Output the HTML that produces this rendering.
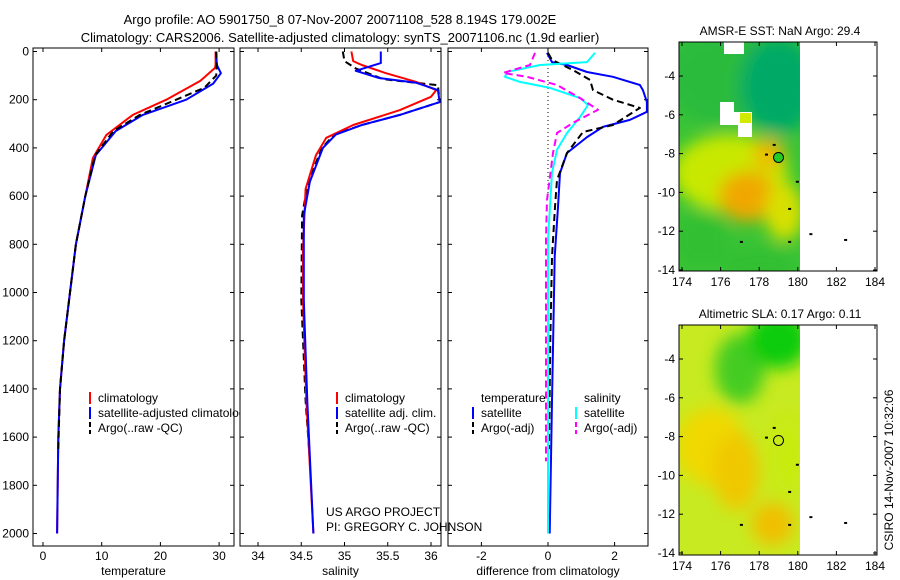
<!DOCTYPE html>
<html><head><meta charset="utf-8"><style>
html,body{margin:0;padding:0;background:#fff;}
svg{display:block;font-family:"Liberation Sans",sans-serif;}
text{font-size:12px;fill:#000;}
</style></head><body>
<svg id="c" width="900" height="580" viewBox="0 0 900 580">
<defs>
<filter id="bl" x="-50%" y="-50%" width="200%" height="200%"><feGaussianBlur stdDeviation="8"/></filter>
<clipPath id="cm1"><rect x="679" y="42" width="121" height="229"/></clipPath>
<clipPath id="cm2"><rect x="679" y="325" width="121" height="230"/></clipPath>
<clipPath id="cp1"><rect x="33" y="48" width="201" height="498"/></clipPath>
<clipPath id="cp2"><rect x="240" y="48" width="201" height="498"/></clipPath>
<clipPath id="cp3"><rect x="448" y="48" width="200" height="498"/></clipPath>
<clipPath id="cl1"><rect x="33" y="380" width="207" height="60"/></clipPath>
</defs>
<text x="340" y="24" text-anchor="middle" style="font-size:13px">Argo profile: AO 5901750_8 07-Nov-2007 20071108_528 8.194S 179.002E</text>
<text x="340" y="42" text-anchor="middle" style="font-size:13px">Climatology: CARS2006. Satellite-adjusted climatology: synTS_20071106.nc (1.9d earlier)</text>
<g id="maps"></g>
<g id="plots"></g>
<text transform="translate(893,470) rotate(-90)" text-anchor="middle">CSIRO 14-Nov-2007 10:32:06</text>
</svg>
<script>
// ---- data ----
const depthT = [0,55,68,122,200,263,346,442,600,800,1000,1200,1400,1600,2000];
const tempClim = [29.4,29.4,29.3,26.8,21.0,15.3,10.8,8.5,7.2,5.6,4.6,3.6,2.9,2.6,2.4];
const depthT2 = [0,55,90,133,200,263,330,430,600,800,1000,1200,1400,1600,2000];
const tempSat  = [29.5,29.6,30.3,29.0,24.4,17.0,12.4,9.0,7.2,5.6,4.6,3.6,2.9,2.6,2.4];
const depthA = [0,55,100,150,200,263,330,430,600,800,1000,1200,1400,1650];
const tempArgo = [29.5,29.6,29.5,27.5,22.7,16.5,12.0,8.9,7.2,5.6,4.6,3.6,2.9,2.6];
const depthS = [0,40,56,90,126,160,188,243,305,358,430,570,820,1030,1450,2000];
const salClim = [35.08,35.1,35.2,35.48,35.83,36.06,36.0,35.64,35.1,34.79,34.67,34.55,34.52,34.52,34.56,34.64];
const depthS2 = [0,48,80,110,130,160,210,263,305,345,400,540,680,1030,1450,2000];
const salSat = [35.42,35.42,35.13,35.4,35.83,36.08,36.1,35.64,35.2,34.9,34.75,34.6,34.53,34.53,34.57,34.64];
const depthA2 = [0,40,70,115,140,210,263,305,345,400,540,680,1030,1450,1700];
const salArgo = [34.98,35.0,35.13,35.45,36.08,36.1,35.64,35.2,34.88,34.74,34.58,34.51,34.5,34.55,34.6];
const depthD = [6,44,56,85,105,139,160,210,250,284,313,355,421,504,645,852,1450,2000];
const dTsat  = [-0.03,0.12,0.57,1.17,1.95,2.76,2.85,2.97,2.97,2.46,1.65,1.17,0.57,0.36,0.3,0.2,0.12,0.05];
const depthD2 = [6,35,77,118,160,200,234,305,334,421,533,645,852,1200,1650];
const dTargo = [0.0,0.12,0.75,1.26,1.35,1.95,2.76,1.95,1.05,0.57,0.27,0.21,0.12,0.07,0.03];
const depthD3 = [6,44,56,85,105,126,151,193,222,272,338,408,504,780,2000];
const dSsat  = [1.41,1.17,-0.24,-1.23,-1.29,-0.84,0.06,0.96,1.2,0.96,0.57,0.27,0.12,0.0,0.0];
const depthD4 = [6,56,89,105,139,193,242,296,338,421,616,780,1200,1700];
const dSargo = [-0.39,-0.54,-1.35,-0.63,0.27,0.96,1.5,0.75,0.27,0.15,-0.03,-0.06,-0.06,-0.06];
const depthTicks = [0,200,400,600,800,1000,1200,1400,1600,1800,2000];
const tTicks = [0,10,20,30];
const sTicks = [34,34.5,35,35.5,36];
const sTickLabels = ["34","34.5","35","35.5","36"];
const dTicks = [-2,0,2];
const lonTicks = [174,176,178,180,182,184];
const latTicks = [-4,-6,-8,-10,-12,-14];

const NS="http://www.w3.org/2000/svg";
const plots=document.getElementById('plots');
function mk(tag,attrs,parent){const e=document.createElementNS(NS,tag);for(const k in attrs)e.setAttribute(k,attrs[k]);(parent||plots).appendChild(e);return e;}
const yD = d => 51.5 + d*0.241;
function panel(x0,x1,xs,ticks,labels,xlabel,name){
  const g=mk('g',{});
  
  
  const r=mk('rect',{x:x0,y:48,width:x1-x0,height:498,fill:'none',stroke:'#000','stroke-width':1},g);
  
  
  ticks.forEach((t,i)=>{const x=xs(t);
    mk('line',{x1:x,x2:x,y1:48,y2:52,stroke:'#000'},g);mk('line',{x1:x,x2:x,y1:546,y2:542,stroke:'#000'},g);
    const tx=mk('text',{x:x,y:560,'text-anchor':'middle'},g);tx.textContent=labels[i];
    
    
  });
  depthTicks.forEach(d=>{const y=yD(d);mk('line',{x1:x0,x2:x0+4,y1:y,y2:y,stroke:'#000'},g);mk('line',{x1:x1,x2:x1-4,y1:y,y2:y,stroke:'#000'},g);});
  const xl=mk('text',{x:(x0+x1)/2,y:575,'text-anchor':'middle'},g);xl.textContent=xlabel;
  
  
  return g;
}
function line(xs,vals,deps,color,dash,clip,name,w){
  const pts=vals.map((v,i)=>xs(v).toFixed(1)+','+yD(deps[i]).toFixed(1)).join(' ');
  const p=mk('polyline',{points:pts,fill:'none',stroke:color,'stroke-width':w||2,'stroke-dasharray':dash||'none','stroke-linejoin':'round','clip-path':'url(#'+clip+')'});
  
  
}
depthTicks.forEach(d=>{const t=mk('text',{x:29,y:yD(d)+4,'text-anchor':'end'});t.textContent=d;
  
  });
const xT=v=>43+v*5.87, xS=v=>258+(v-34)*86.5, xDf=v=>548+v*33.3;
panel(33,234,xT,tTicks,tTicks.map(String),'temperature','temperature');
panel(240,441,xS,sTicks,sTickLabels,'salinity','salinity');
panel(448,648,xDf,dTicks,dTicks.map(String),'difference from climatology','difference');
line(xT,tempClim,depthT,'#f00','','cp1','temp-climatology-line');
line(xT,tempSat,depthT2,'#00f','','cp1','temp-satellite-line');
line(xT,tempArgo,depthA,'#000','7,4','cp1','temp-argo-line');
line(xS,salArgo,depthA2,'#000','7,4','cp2','sal-argo-line');
line(xS,salClim,depthS,'#f00','','cp2','sal-climatology-line');
line(xS,salSat,depthS2,'#00f','','cp2','sal-satellite-line');
mk('line',{x1:548,x2:548,y1:52,y2:200,stroke:'#000','stroke-dasharray':'1,3'});
line(xDf,dTsat,depthD,'#00f','','cp3','diff-temp-satellite-line');
line(xDf,dTargo,depthD2,'#000','7,4','cp3','diff-temp-argo-line');
line(xDf,dSsat,depthD3,'#0ff','','cp3','diff-sal-satellite-line');
line(xDf,dSargo,depthD4,'#f0f','7,4','cp3','diff-sal-argo-line');
function legend(x,y,items,name,clip){
  const g=mk('g',clip?{'clip-path':'url(#'+clip+')'}:{});
  items.forEach((it,i)=>{const yy=y+i*15;
    if(it[1]) mk('line',{x1:x,x2:x,y1:yy-6,y2:yy+6,stroke:it[1],'stroke-width':2,'stroke-dasharray':it[2]||'none'},g);
    const t=mk('text',{x:x+8,y:yy+4},g);t.textContent=it[0];
    
    });
}
legend(90,398,[['climatology','#f00'],['satellite-adjusted climatology','#00f'],['Argo(..raw -QC)','#000','5,3']],'temp-legend','cl1');
legend(337,398,[['climatology','#f00'],['satellite adj. clim.','#00f'],['Argo(..raw -QC)','#000','5,3']],'sal-legend');
legend(473,398,[['temperature',null],['satellite','#00f'],['Argo(-adj)','#000','5,3']],'difft-legend');
legend(576,398,[['salinity',null],['satellite','#0ff'],['Argo(-adj)','#f0f','5,3']],'diffs-legend');
let t1=mk('text',{x:326,y:516});t1.textContent='US ARGO PROJECT';


let t2=mk('text',{x:326,y:531});t2.textContent='PI: GREGORY C. JOHNSON';



// ---- maps ----
const maps=document.getElementById('maps');
function map(top,bot,latRef,title,blobs,bg,clip,name,extra){
  const g=mk('g',{},maps);
  
  
  const xL=v=>682+(v-174)*19.3, yL=v=>latRef+(-4-v)*19.4;
  const cg=mk('g',{'clip-path':'url(#'+clip+')'},g);
  mk('rect',{x:679,y:top,width:121,height:bot-top,fill:bg},cg);
  const bg2=mk('g',{filter:'url(#bl)'},cg);
  blobs.forEach(b=>mk('ellipse',{cx:xL(b[0]),cy:yL(b[1]),rx:b[2]*19.3,ry:b[3]*19.4,fill:b[4]},bg2));
  if(extra) extra(cg,xL,yL);
  mk('rect',{x:679,y:top,width:198,height:bot-top,fill:'none',stroke:'#000'},g);
  lonTicks.forEach(v=>{const x=xL(v);mk('line',{x1:x,x2:x,y1:bot,y2:bot-4,stroke:'#000'},g);mk('line',{x1:x,x2:x,y1:top,y2:top+4,stroke:'#000'},g);
    const t=mk('text',{x:x,y:bot+15,'text-anchor':'middle'},g);t.textContent=v;
    
    });
  latTicks.forEach(v=>{const y=yL(v);mk('line',{x1:679,x2:683,y1:y,y2:y,stroke:'#000'},g);mk('line',{x1:877,x2:873,y1:y,y2:y,stroke:'#000'},g);
    const t=mk('text',{x:675,y:y+4,'text-anchor':'end'},g);t.textContent=v;
    
    });
  const tt=mk('text',{x:780,y:top-7,'text-anchor':'middle'},g);tt.textContent=title;
  
  
  const c=mk('circle',{cx:xL(179.0),cy:yL(-8.2),r:5,fill:name==='sst-map'?'#22cc22':'none',stroke:'#000'},g);
  
  
  [[182.4,-12.4],[180.6,-12.1],[177,-12.5],[179.5,-12.5],[179.9,-9.4],[179.5,-10.8],[178.3,-8.0],[178.7,-7.5]].forEach(p=>mk('rect',{x:xL(p[0]),y:yL(p[1]),width:3,height:2,fill:'#000'},g));
}
map(42,271,76,'AMSR-E SST: NaN Argo: 29.4',[
  [176,-4,3,2.5,'#2cbb3c'],[179,-4.5,2,2.5,'#00aa66'],[176.5,-9,3,2,'#c8e800'],[177.4,-10.2,1.5,1.3,'#f0a800'],[178.5,-8,0.8,0.8,'#f0b800'],[175,-12.5,1.5,1.5,'#33c033'],[178,-13.7,2,0.9,'#33c033'],[179.3,-11,1,1.5,'#d8e000']
],'#3ac436','cm1','sst-map',(cg)=>{
  mk('polygon',{points:'720,102 734,102 734,112 752,112 752,137 738,137 738,125 720,125',fill:'#fff'},cg);
  mk('rect',{x:740,y:113,width:11,height:10,fill:'#d0ea00'},cg);
  mk('rect',{x:724,y:42,width:20,height:12,fill:'#fff'},cg);
});
map(325,555,359,'Altimetric SLA: 0.17 Argo: 0.11',[
  [177,-4.5,1.3,1.8,'#44cc22'],[179,-3,1.6,1.5,'#11cc11'],[175.5,-8.5,1.8,2,'#f0d800'],[176.8,-9.8,1.2,2,'#f0c800'],[178.7,-12.5,1.1,1.1,'#f0c000'],[179.5,-9,0.8,2,'#c8ec10']
],'#c8ea20','cm2','sla-map');
</script>
</body></html>
